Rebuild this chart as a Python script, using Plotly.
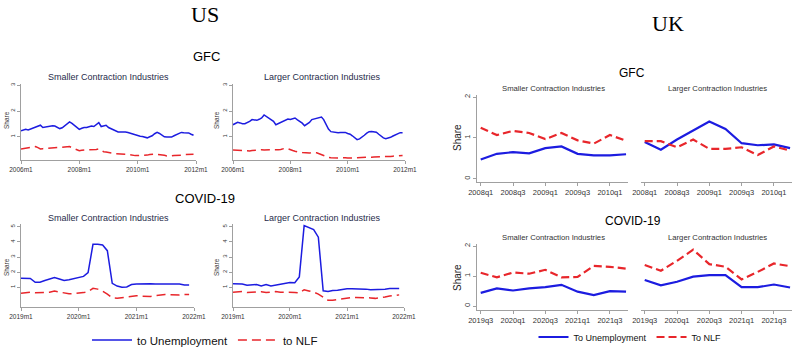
import plotly.graph_objects as go
import pandas as pd

W, H = 796, 350

# ---------------- DATA ----------------
us_gfc_months = pd.date_range("2006-01-01", periods=72, freq="MS")
us_covid_months = pd.date_range("2019-01-01", periods=36, freq="MS")

us_gfc_small_unemp = [1.23,1.27,1.29,1.27,1.30,1.36,1.38,1.41,1.45,1.36,1.38,1.40,
                      1.42,1.43,1.42,1.36,1.32,1.35,1.42,1.50,1.58,1.52,1.45,1.38,
                      1.29,1.33,1.36,1.36,1.38,1.42,1.40,1.46,1.55,1.40,1.43,1.45,
                      1.36,1.32,1.27,1.23,1.19,1.19,1.20,1.19,1.17,1.14,1.10,1.07,
                      1.04,1.02,1.01,0.98,0.96,1.00,1.04,1.12,1.17,1.13,1.06,1.00,
                      0.99,0.99,0.99,1.04,1.09,1.13,1.17,1.16,1.14,1.15,1.10,1.06]
us_gfc_small_nlf = [0.53,0.54,0.55,0.57,0.59,0.61,0.62,0.58,0.53,0.54,0.55,0.57,
                    0.59,0.59,0.59,0.59,0.59,0.60,0.61,0.62,0.62,0.58,0.55,0.50,
                    0.46,0.48,0.50,0.50,0.50,0.50,0.50,0.51,0.53,0.47,0.42,0.41,
                    0.40,0.38,0.36,0.34,0.33,0.33,0.32,0.32,0.32,0.30,0.28,0.27,
                    0.27,0.27,0.27,0.27,0.29,0.31,0.33,0.33,0.32,0.31,0.31,0.28,
                    0.26,0.25,0.26,0.27,0.27,0.28,0.29,0.31,0.31,0.32,0.32,0.32]
us_gfc_large_unemp = [1.47,1.52,1.56,1.54,1.51,1.51,1.55,1.60,1.67,1.66,1.64,1.68,
                      1.73,1.85,1.79,1.73,1.66,1.60,1.47,1.52,1.56,1.60,1.64,1.69,
                      1.67,1.70,1.73,1.66,1.60,1.53,1.43,1.50,1.56,1.67,1.70,1.73,
                      1.75,1.77,1.67,1.50,1.30,1.20,1.18,1.16,1.16,1.17,1.18,1.17,
                      1.13,1.10,1.04,0.96,0.89,0.92,0.98,1.06,1.14,1.20,1.21,1.20,
                      1.18,1.10,1.02,0.96,0.93,0.95,0.98,1.03,1.08,1.13,1.16,1.16]
us_gfc_large_nlf = [0.49,0.48,0.48,0.47,0.46,0.45,0.44,0.45,0.47,0.48,0.49,0.49,
                    0.50,0.49,0.49,0.48,0.49,0.50,0.49,0.50,0.51,0.53,0.56,0.54,
                    0.49,0.47,0.44,0.41,0.40,0.39,0.38,0.36,0.37,0.38,0.40,0.38,
                    0.34,0.31,0.27,0.23,0.20,0.19,0.18,0.17,0.18,0.19,0.20,0.19,
                    0.18,0.17,0.17,0.18,0.19,0.19,0.20,0.20,0.21,0.20,0.21,0.22,
                    0.22,0.23,0.23,0.22,0.23,0.24,0.24,0.25,0.25,0.26,0.27,0.27]

us_covid_small_unemp = [1.59,1.60,1.58,1.33,1.34,1.45,1.52,1.64,1.55,1.45,1.50,1.56,
                        1.66,1.72,1.97,3.84,3.84,3.80,3.42,1.26,1.08,1.00,1.02,1.18,
                        1.22,1.24,1.26,1.24,1.22,1.22,1.24,1.25,1.26,1.22,1.15,1.15]
us_covid_small_nlf = [0.60,0.65,0.67,0.64,0.64,0.66,0.68,0.75,0.70,0.62,0.57,0.58,
                      0.60,0.65,0.72,0.93,0.88,0.75,0.55,0.30,0.28,0.33,0.38,0.42,
                      0.44,0.42,0.40,0.40,0.45,0.50,0.52,0.51,0.49,0.50,0.53,0.53]
us_covid_large_unemp = [1.23,1.23,1.22,1.14,1.16,1.18,1.09,1.18,1.09,1.14,1.18,1.22,
                        1.32,1.30,1.69,5.07,4.95,4.81,4.31,0.77,0.72,0.79,0.81,0.86,
                        0.91,0.91,0.91,0.90,0.88,0.84,0.84,0.85,0.88,0.92,0.93,0.92]
us_covid_large_nlf = [0.68,0.70,0.72,0.66,0.68,0.72,0.70,0.65,0.70,0.72,0.68,0.68,
                      0.68,0.66,0.62,0.84,0.76,0.68,0.55,0.35,0.15,0.15,0.20,0.26,
                      0.30,0.33,0.33,0.33,0.32,0.30,0.27,0.30,0.36,0.42,0.47,0.50]

uk_gfc_quarters = ["2008q1","2008q2","2008q3","2008q4","2009q1","2009q2",
                   "2009q3","2009q4","2010q1","2010q2"]
uk_covid_quarters = ["2019q3","2019q4","2020q1","2020q2","2020q3","2020q4",
                     "2021q1","2021q2","2021q3","2021q4"]

uk_gfc_small_unemp = [0.47,0.61,0.65,0.62,0.75,0.79,0.61,0.57,0.57,0.60]
uk_gfc_small_nlf = [1.25,1.07,1.17,1.12,0.97,1.12,0.94,0.86,1.07,0.93]
uk_gfc_large_unemp = [0.90,0.71,0.96,1.19,1.40,1.22,0.87,0.82,0.84,0.75]
uk_gfc_large_nlf = [0.92,0.92,0.77,0.96,0.73,0.73,0.77,0.58,0.79,0.69]

uk_covid_small_unemp = [0.44,0.59,0.52,0.59,0.63,0.71,0.48,0.37,0.50,0.48]
uk_covid_small_nlf = [1.11,0.96,1.12,1.08,1.21,0.96,0.97,1.34,1.31,1.25]
uk_covid_large_unemp = [0.87,0.69,0.81,0.98,1.03,1.03,0.63,0.63,0.72,0.62]
uk_covid_large_nlf = [1.37,1.18,1.51,1.88,1.40,1.31,0.89,1.14,1.42,1.33]

us_gfc_ticks = ["2006-01-01", "2008-01-01", "2010-01-01", "2012-01-01"]
us_gfc_ticktext = ["2006m1", "2008m1", "2010m1", "2012m1"]
us_covid_ticks = ["2019-01-01", "2020-01-01", "2021-01-01", "2022-01-01"]
us_covid_ticktext = ["2019m1", "2020m1", "2021m1", "2022m1"]
uk_gfc_ticks = ["2008q1", "2008q3", "2009q1", "2009q3", "2010q1"]
uk_covid_ticks = ["2019q3", "2020q1", "2020q3", "2021q1", "2021q3"]

# ---------------- STYLE ----------------
BLUE = "#1c1ce0"
RED = "#e8262b"
AX = "#a0a0a0"
NARROW = "Liberation Sans Narrow, Liberation Sans, Arial, sans-serif"
SANS = "Liberation Sans, Arial, sans-serif"
SERIF = "Liberation Serif, Times New Roman, serif"


def xd(a, b):
    return [a / W, b / W]


def yd(top, bottom):
    return [1 - bottom / H, 1 - top / H]


fig = go.Figure()

panels = [
    (1, us_gfc_months, us_gfc_small_unemp, us_gfc_small_nlf, (21, 196), (84, 160), "usg"),
    (2, us_gfc_months, us_gfc_large_unemp, us_gfc_large_nlf, (233, 405), (84, 160), "usg"),
    (3, us_covid_months, us_covid_small_unemp, us_covid_small_nlf, (21, 194), (224, 307), "usc"),
    (4, us_covid_months, us_covid_large_unemp, us_covid_large_nlf, (233, 404), (224, 307), "usc"),
    (5, uk_gfc_quarters, uk_gfc_small_unemp, uk_gfc_small_nlf, (477, 628), (95, 182), "ukg"),
    (6, uk_gfc_quarters, uk_gfc_large_unemp, uk_gfc_large_nlf, (641, 792), (95, 182), "ukg"),
    (7, uk_covid_quarters, uk_covid_small_unemp, uk_covid_small_nlf, (477, 628), (244, 310), "ukc"),
    (8, uk_covid_quarters, uk_covid_large_unemp, uk_covid_large_nlf, (641, 792), (244, 310), "ukc"),
]

layout_axes = {}
for idx, xs, yu, yn, xdom, ydom, kind in panels:
    xa = "x" if idx == 1 else f"x{idx}"
    ya = "y" if idx == 1 else f"y{idx}"
    us = kind.startswith("us")
    lw = 1.5 if us else 2.2
    first = idx in (1, 5)
    fig.add_trace(go.Scatter(
        x=xs, y=yu, mode="lines", xaxis=xa, yaxis=ya,
        line=dict(color=BLUE, width=lw),
        name="to Unemployment" if us else "To Unemployment",
        legend="legend" if us else "legend2",
        showlegend=first,
    ))
    fig.add_trace(go.Scatter(
        x=xs, y=yn, mode="lines", xaxis=xa, yaxis=ya,
        line=dict(color=RED, width=lw, dash="9px,5px" if us else "8px,4px"),
        name="to NLF" if us else "To NLF",
        legend="legend" if us else "legend2",
        showlegend=first,
    ))

    xkey = "xaxis" if idx == 1 else f"xaxis{idx}"
    ykey = "yaxis" if idx == 1 else f"yaxis{idx}"
    xcfg = dict(domain=xd(*xdom), anchor=ya, showgrid=False, zeroline=False,
                showline=True, linecolor=AX, linewidth=1, ticks="outside",
                tickcolor=AX, ticklen=3, tickwidth=1, automargin=False)
    ycfg = dict(domain=yd(*ydom), anchor=xa, showgrid=False, zeroline=False,
                ticks="outside", tickcolor=AX, ticklen=3, tickwidth=1,
                tickangle=-90, showline=True, linecolor=AX, linewidth=1,
                automargin=False)
    if kind == "usg":
        xcfg.update(type="date", range=["2006-01-01", "2012-01-01"],
                    tickvals=us_gfc_ticks, ticktext=us_gfc_ticktext,
                    tickfont=dict(size=6.5, family=SANS, color="#333"))
        ycfg.update(range=[0.1, 3.05], tickvals=[1, 2, 3],
                    tickfont=dict(size=6, family=SANS, color="#333"))
    elif kind == "usc":
        xcfg.update(type="date", range=["2019-01-01", "2022-01-01"],
                    tickvals=us_covid_ticks, ticktext=us_covid_ticktext,
                    tickfont=dict(size=6.5, family=SANS, color="#333"))
        ycfg.update(range=[-0.3, 5.18], tickvals=[1, 2, 3, 4, 5],
                    tickfont=dict(size=6, family=SANS, color="#333"))
    else:
        xcfg.update(type="category", range=[-0.23, 9.12],
                    tickvals=uk_gfc_ticks if kind == "ukg" else uk_covid_ticks,
                    tickfont=dict(size=7.5, family=SANS, color="#333"))
        if kind == "ukg":
            ycfg.update(range=[-0.08, 2.05])
        else:
            ycfg.update(range=[-0.13, 2.07])
        ycfg.update(tickvals=[0, 1, 2],
                    tickfont=dict(size=7.5, family=SANS, color="#333"))
        if idx in (6, 8):
            ycfg.update(showline=False, ticks="", showticklabels=False)
    layout_axes[xkey] = xcfg
    layout_axes[ykey] = ycfg

fig.update_layout(**layout_axes)

ann = []


def add_text(x, y, text, size, family=SANS, color="#000", angle=0):
    ann.append(dict(x=x / W, y=1 - y / H, xref="paper", yref="paper",
                    text=text, showarrow=False, xanchor="center", yanchor="middle",
                    textangle=angle, font=dict(size=size, family=family, color=color)))


add_text(205, 15, "US", 22, SERIF)
add_text(668, 23, "UK", 22, SERIF)
add_text(206, 57, "GFC", 13)
add_text(205, 198, "COVID-19", 13)
add_text(632, 73, "GFC", 12)
add_text(633, 221, "COVID-19", 12)

TITLE_US = "#1f2b4a"
for cx, cy, t in [(108, 77, "Smaller Contraction Industries"),
                  (322, 77, "Larger Contraction Industries"),
                  (108, 218, "Smaller Contraction Industries"),
                  (322, 218, "Larger Contraction Industries")]:
    add_text(cx, cy, t, 9, NARROW, TITLE_US)
for cx, cy, t in [(553, 89, "Smaller Contraction Industries"),
                  (717, 88, "Larger Contraction Industries"),
                  (553, 237, "Smaller Contraction Industries"),
                  (717, 237, "Larger Contraction Industries")]:
    add_text(cx, cy, t, 7.7, NARROW, "#333")

for cx, cy in [(6, 120), (216, 120), (6, 267), (216, 267)]:
    add_text(cx, cy, "Share", 6.5, SANS, "#333", -90)
for cx, cy in [(457, 138), (457, 278)]:
    add_text(cx, cy, "Share", 10, SANS, "#222", -90)

fig.update_layout(
    annotations=ann,
    width=W, height=H,
    margin=dict(l=0, r=0, t=0, b=0, autoexpand=False),
    paper_bgcolor="white", plot_bgcolor="white",
    legend=dict(orientation="h", x=205 / W, xanchor="center",
                y=1 - 340 / H, yanchor="middle",
                font=dict(size=11.5, family=SANS, color="#111"),
                itemwidth=40, bgcolor="rgba(0,0,0,0)"),
    legend2=dict(orientation="h", x=630 / W, xanchor="center",
                 y=1 - 337 / H, yanchor="middle",
                 font=dict(size=9, family=NARROW, color="#111"),
                 itemwidth=30, bgcolor="rgba(0,0,0,0)"),
)

fig.write_html(
    "out.html",
    config={"displayModeBar": False},
    post_script="document.body.style.margin='0';document.body.style.padding='0';"
                "document.body.style.overflow='hidden';",
)
